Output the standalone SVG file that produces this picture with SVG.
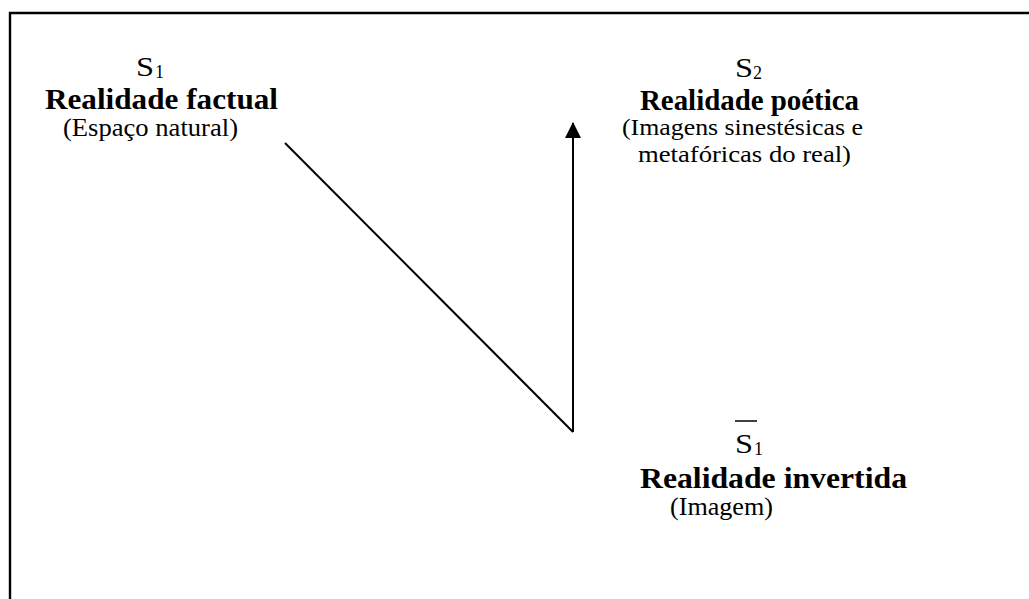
<svg xmlns="http://www.w3.org/2000/svg" width="1029" height="599" viewBox="0 0 1029 599">
<style>
text{font-family:"Liberation Serif","Times New Roman",serif;fill:#000}
.s{font-size:28px}
.sub{font-size:18px}
.t{font-size:30px;font-weight:bold}
.r{font-size:26px}
.r2{font-size:24px}
.frame{stroke:#000;stroke-width:2.4;fill:none}
.conn{stroke:#000;stroke-width:2;fill:none}
</style>
<defs>
<marker id="ah" markerWidth="16" markerHeight="16" refX="15" refY="8" orient="auto" markerUnits="userSpaceOnUse" viewBox="0 0 16 16">
<path d="M0,0 L16,8 L0,16 Z" fill="#000"/>
</marker>
</defs>
<rect width="1029" height="599" fill="#fff"/>
<g id="frame">
<path class="frame" d="M10,600 V13 H1030"/>
</g>
<g id="node-s1">
<text x="136" y="76" class="s" textLength="18" lengthAdjust="spacingAndGlyphs">S</text>
<text x="155" y="78" class="sub">1</text>
<text x="45" y="109" class="t" textLength="233" lengthAdjust="spacingAndGlyphs">Realidade factual</text>
<text x="63" y="136" class="r" textLength="175" lengthAdjust="spacingAndGlyphs">(Espaço natural)</text>
</g>
<g id="node-s2">
<text x="735" y="77" class="s" textLength="18" lengthAdjust="spacingAndGlyphs">S</text>
<text x="753" y="79" class="sub">2</text>
<text x="640" y="110" class="t" textLength="219" lengthAdjust="spacingAndGlyphs">Realidade poética</text>
<text x="622" y="135" class="r2" textLength="241" lengthAdjust="spacingAndGlyphs">(Imagens sinestésicas e</text>
<text x="638" y="162" class="r2" textLength="213" lengthAdjust="spacingAndGlyphs">metafóricas do real)</text>
</g>
<g id="node-s1bar">
<line x1="735" y1="421" x2="757" y2="421" stroke="#000" stroke-width="1.5"/>
<text x="735" y="453" class="s" textLength="18" lengthAdjust="spacingAndGlyphs">S</text>
<text x="754" y="455" class="sub">1</text>
<text x="640" y="488" class="t" textLength="267" lengthAdjust="spacingAndGlyphs">Realidade invertida</text>
<text x="670" y="515" class="r" textLength="103" lengthAdjust="spacingAndGlyphs">(Imagem)</text>
</g>
<g id="connectors">
<line class="conn" x1="285" y1="143" x2="573" y2="432"/>
<line class="conn" x1="573" y1="432" x2="573" y2="123" marker-end="url(#ah)"/>
</g>
</svg>
